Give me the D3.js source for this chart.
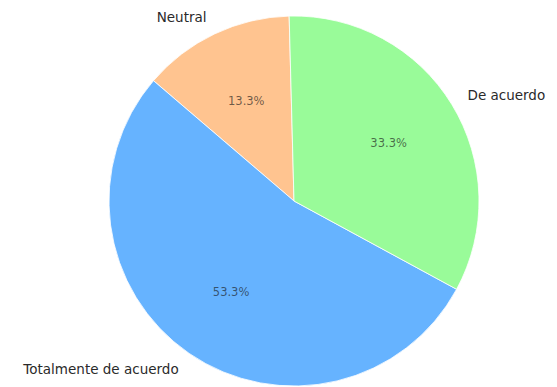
<!DOCTYPE html>
<html>
<head>
<meta charset="utf-8">
<script src="https://cdn.jsdelivr.net/npm/d3@7"></script>
<style>
  html, body { margin: 0; padding: 0; background: #fff; }
  svg { display: block; }
</style>
</head>
<body>
<svg id="chart" width="557" height="387"></svg>
<script>
const categories = ["Neutral", "Totalmente de acuerdo", "De acuerdo"];
const values = [13.3, 53.3, 33.3];
const pctLabels = ["13.3%", "53.3%", "33.3%"];
const colors = ["#ffc490", "#66b3ff", "#99fb99"];

const svg = d3.select("#chart");
const cx = 294, cy = 201, r = 185;
const g = svg.append("g").attr("transform", `translate(${cx},${cy})`);

const tilt = -1.5 * Math.PI / 180;
const pie = d3.pie().sort(null).startAngle(tilt).endAngle(tilt - 2 * Math.PI);
const arcs = pie(values);
const arc = d3.arc().innerRadius(0).outerRadius(r);

g.selectAll("path.slice").data(arcs).enter().append("path")
  .attr("class", "slice")
  .attr("d", arc)
  .attr("fill", (d, i) => colors[i])
  .attr("stroke", "#ffffff")
  .attr("stroke-width", 0.8);

function mid(d) { return (d.startAngle + d.endAngle) / 2; }

g.selectAll("text.cat").data(arcs).enter().append("text")
  .attr("class", "cat")
  .attr("x", d => Math.sin(mid(d)) * r * 1.1)
  .attr("y", d => -Math.cos(mid(d)) * r * 1.1)
  .attr("text-anchor", d => Math.sin(mid(d)) < 0 ? "end" : "start")
  .attr("dominant-baseline", "central")
  .attr("font-family", "DejaVu Sans, sans-serif")
  .attr("font-size", 13.5)
  .attr("fill", "#2a2a2a")
  .text((d, i) => categories[i]);

g.selectAll("text.pct").data(arcs).enter().append("text")
  .attr("class", "pct")
  .attr("x", d => Math.sin(mid(d)) * r * 0.6)
  .attr("y", d => -Math.cos(mid(d)) * r * 0.6)
  .attr("text-anchor", "middle")
  .attr("dominant-baseline", "central")
  .attr("font-family", "DejaVu Sans, sans-serif")
  .attr("font-size", 11.5)
  .attr("fill", "#1a1a1a")
  .attr("fill-opacity", 0.65)
  .text((d, i) => pctLabels[i]);
</script>
</body>
</html>
